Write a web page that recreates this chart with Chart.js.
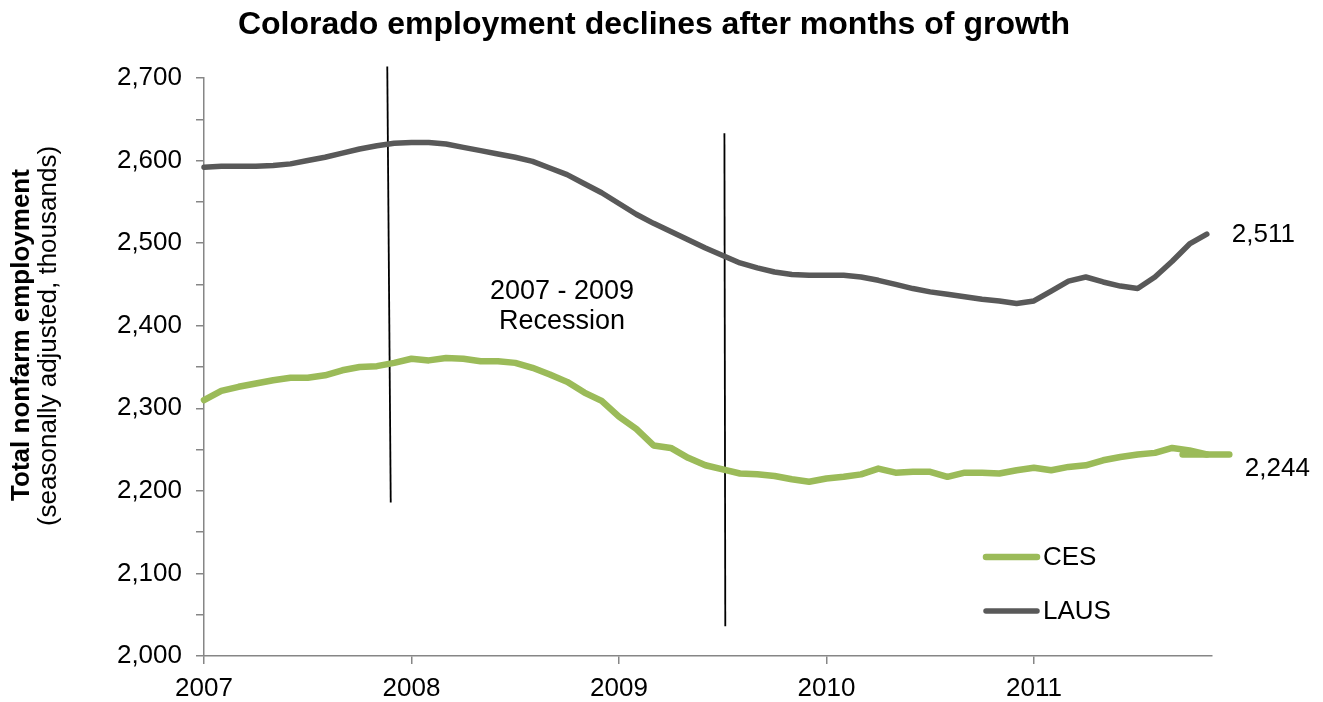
<!DOCTYPE html>
<html><head><meta charset="utf-8">
<script src="https://cdn.jsdelivr.net/npm/chart.js@4/dist/chart.umd.min.js"></script>
<style>html,body{margin:0;padding:0;background:#fff}#wrap{width:1323px;height:702px}</style>
</head><body><div id="wrap"><canvas id="c" width="1323" height="702"></canvas></div>
<script>
// Categories: monthly, Jan 2007 .. Nov 2011 (59 months)
const months = [
 'Jan 2007','Feb 2007','Mar 2007','Apr 2007','May 2007','Jun 2007','Jul 2007','Aug 2007','Sep 2007','Oct 2007','Nov 2007','Dec 2007',
 'Jan 2008','Feb 2008','Mar 2008','Apr 2008','May 2008','Jun 2008','Jul 2008','Aug 2008','Sep 2008','Oct 2008','Nov 2008','Dec 2008',
 'Jan 2009','Feb 2009','Mar 2009','Apr 2009','May 2009','Jun 2009','Jul 2009','Aug 2009','Sep 2009','Oct 2009','Nov 2009','Dec 2009',
 'Jan 2010','Feb 2010','Mar 2010','Apr 2010','May 2010','Jun 2010','Jul 2010','Aug 2010','Sep 2010','Oct 2010','Nov 2010','Dec 2010',
 'Jan 2011','Feb 2011','Mar 2011','Apr 2011','May 2011','Jun 2011','Jul 2011','Aug 2011','Sep 2011','Oct 2011','Nov 2011'
];
const yearTicks = ['2007','2008','2009','2010','2011'];
const yearTickMonths = ['Jan 2007','Jan 2008','Jan 2009','Jan 2010','Jan 2011'];

// Series (thousands, seasonally adjusted)
const ces = [
 2310,2321,2326,2330,2334,2337,2337,2340,2346,2350,2351,2355,
 2360,2358,2361,2360,2357,2357,2355,2349,2341,2332,2319,2309,
 2290,2275,2255,2252,2240,2231,2226,2221,2220,2218,2214,2211,
 2215,2217,2220,2227,2222,2223,2223,2217,2222,2222,2221,2225,
 2228,2225,2229,2231,2237,2241,2244,2246,2252,2249,2244
];
const laus = [
 2592,2593,2593,2593,2594,2596,2600,2604,2609,2614,2618,2621,
 2622,2622,2620,2616,2612,2608,2604,2599,2591,2583,2572,2561,
 2548,2535,2524,2514,2504,2494,2485,2476,2470,2465,2462,2461,
 2461,2461,2459,2455,2450,2445,2441,2438,2435,2432,2430,2427,
 2430,2442,2454,2459,2453,2448,2445,2459,2478,2499,2511
];
// short flat stroke at the end of CES (month positions, value)
const cesEndStrokeX = [56.6, 59.3];
const cesEndStrokeY = 2244;
// recession markers (month position, value) top -> bottom
const recessionStartX = [10.6, 10.8];
const recessionStartY = [2714, 2186];
const recessionEndX = [30.1, 30.15];
const recessionEndY = [2633, 2036];
const yTickValues = [2000,2100,2200,2300,2400,2500,2600,2700];

const FONT = "'Liberation Sans', Arial, Helvetica, sans-serif";
const CES_COLOR = '#9BBB59';
const LAUS_COLOR = '#595959';
const AXIS_COLOR = '#868686';
const fmt = v => v.toLocaleString('en-US');

const pts = arr => arr.map((v, i) => ({x: i, y: v}));

const annot = {
  id: 'annot',
  afterDraw(chart) {
    const c = chart.ctx;
    const xs = chart.scales.x, ys = chart.scales.y;
    c.save();
    c.fillStyle = '#000';
    // title
    c.font = "bold 32px " + FONT;
    c.textAlign = 'center'; c.textBaseline = 'middle';
    c.fillText('Colorado employment declines after months of growth', 654, 25);
    // y axis title
    c.save();
    c.translate(22, 335); c.rotate(-Math.PI / 2);
    c.font = "bold 26px " + FONT;
    c.fillText('Total nonfarm employment', 0, 0);
    c.restore();
    c.save();
    c.translate(49, 336); c.rotate(-Math.PI / 2);
    c.font = "26px " + FONT;
    c.fillText('(seasonally adjusted, thousands)', 0, 0);
    c.restore();
    // recession text
    c.font = "27px " + FONT;
    c.fillText('2007 - 2009', 562, 292);
    c.fillText('Recession', 562, 322);
    // end value labels
    c.font = "26px " + FONT;
    c.textAlign = 'left';
    const li = laus.length - 1, ci = ces.length - 1;
    c.fillText(fmt(laus[li]), xs.getPixelForValue(li) + 25, ys.getPixelForValue(laus[li]) + 1);
    c.fillText(fmt(ces[ci]), xs.getPixelForValue(ci) + 38, ys.getPixelForValue(ces[ci]) + 14);
    // legend
    const items = [['CES', CES_COLOR, 6.5, 557], ['LAUS', LAUS_COLOR, 5.5, 611]];
    items.forEach(([t, col, w, y]) => {
      c.strokeStyle = col; c.lineWidth = w; c.lineCap = 'round';
      c.beginPath(); c.moveTo(986, y); c.lineTo(1037, y); c.stroke();
      c.fillStyle = '#000';
      c.fillText(t, 1043, y + 1);
    });
    c.restore();
  }
};

new Chart(document.getElementById('c'), {
  type: 'line',
  data: {
    datasets: [
      {label: 'CES', data: pts(ces), borderColor: CES_COLOR, borderWidth: 6.5, pointRadius: 0,
       borderCapStyle: 'round', borderJoinStyle: 'round', tension: 0, clip: false},
      {label: 'CES end', data: cesEndStrokeX.map(x => ({x, y: cesEndStrokeY})), borderColor: CES_COLOR,
       borderWidth: 6.5, pointRadius: 0, borderCapStyle: 'round', clip: false},
      {label: 'LAUS', data: pts(laus), borderColor: LAUS_COLOR, borderWidth: 5.5, pointRadius: 0,
       borderCapStyle: 'round', borderJoinStyle: 'round', tension: 0, clip: false},
      {label: 'rec1', data: recessionStartX.map((x, i) => ({x, y: recessionStartY[i]})), borderColor: '#000',
       borderWidth: 1.8, pointRadius: 0, clip: false},
      {label: 'rec2', data: recessionEndX.map((x, i) => ({x, y: recessionEndY[i]})), borderColor: '#000',
       borderWidth: 1.8, pointRadius: 0, clip: false}
    ]
  },
  options: {
    responsive: false, animation: false, devicePixelRatio: 1,
    layout: {padding: {top: 78, right: 111, left: 0, bottom: 0}},
    plugins: {legend: {display: false}, title: {display: false}, tooltip: {enabled: false}},
    scales: {
      x: {
        type: 'linear', min: 0, max: 58.3,
        afterBuildTicks: s => { s.ticks = yearTickMonths.map(m => ({value: months.indexOf(m)})); },
        afterFit: s => { s.height = 46; },
        ticks: {
          autoSkip: false, maxRotation: 0, color: '#000', padding: 9,
          font: {family: FONT, size: 26},
          callback: v => yearTicks[yearTickMonths.indexOf(months[v])]
        },
        grid: {drawOnChartArea: false, drawTicks: true, tickLength: 8, color: AXIS_COLOR, lineWidth: 1.5},
        border: {color: AXIS_COLOR, width: 1.5}
      },
      y: {
        min: 2000, max: 2700,
        afterFit: s => { s.width = 204; },
        ticks: {
          stepSize: 50, color: '#000', padding: 14,
          font: {family: FONT, size: 26},
          callback: v => yTickValues.includes(v) ? fmt(v) : ''
        },
        grid: {drawOnChartArea: false, drawTicks: true, tickLength: 8, color: AXIS_COLOR, lineWidth: 1.5},
        border: {color: AXIS_COLOR, width: 1.5}
      }
    }
  },
  plugins: [annot]
});
</script>
</body></html>
